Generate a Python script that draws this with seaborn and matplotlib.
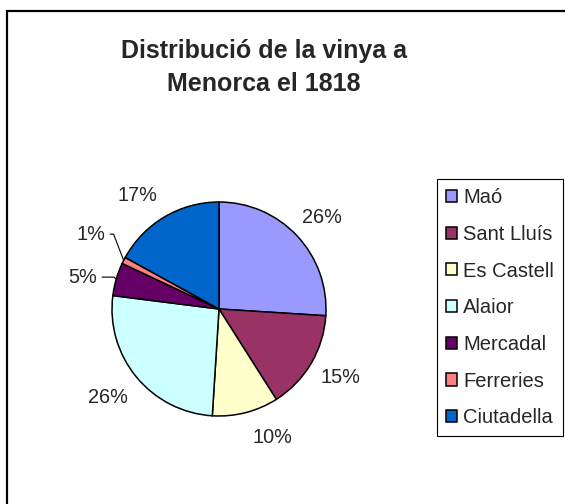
import numpy as np
import matplotlib
matplotlib.use("Agg")
import matplotlib.pyplot as plt
import seaborn as sns
from matplotlib.patches import Rectangle

# data
municipis = ["Maó", "Sant Lluís", "Es Castell", "Alaior", "Mercadal", "Ferreries", "Ciutadella"]
percent = [26, 15, 10, 26, 5, 1, 17]
colors = ["#9999FF", "#993366", "#FFFFCC", "#CCFFFF", "#660066", "#FF8080", "#0066CC"]
title = "Distribució de la vinya a\nMenorca el 1818"

sns.set_style("white")
plt.rcParams['font.family'] = ['Liberation Sans', 'DejaVu Sans']
palette = sns.color_palette(colors)

W, H = 565, 504
fig = plt.figure(figsize=(W / 100, H / 100), dpi=100)

# pie centre (219, 309) px from top-left, radius 107 px
R, k = 107, 1.6
cx, cy = 219, H - 309
side = 2 * R * k
ax = fig.add_axes([(cx - side / 2) / W, (cy - side / 2) / H, side / W, side / H])

wedges, _ = ax.pie(percent, colors=palette, startangle=90, counterclock=False,
                   wedgeprops=dict(edgecolor="black", linewidth=1.1))
ax.set_xlim(-k, k)
ax.set_ylim(-k, k)
ax.axis("off")

# label placement like Excel (radius units from the centre)
label_pos = [(0.963, 0.879), (1.131, -0.617), (0.495, -1.178), (-1.037, -0.804),
             (-1.271, 0.318), (-1.196, 0.720), (-0.766, 1.084)]
leader = {4: -45, 5: 111}   # small slices get a leader line
for i, w in enumerate(wedges):
    mid = np.deg2rad((w.theta1 + w.theta2) / 2)
    lbl = f"{percent[i]}%"
    tx, ty = label_pos[i]
    if i in leader:
        ax.annotate(lbl, xy=(np.cos(mid), np.sin(mid)), xytext=(tx, ty - 0.02),
                    ha="center", va="center", fontsize=14.3,
                    arrowprops=dict(arrowstyle="-", color="black", lw=0.8,
                                    shrinkA=1, shrinkB=0, relpos=(1, 0.5),
                                    connectionstyle=f"angle,angleA=0,angleB={leader[i]},rad=0"))
    else:
        ax.text(tx, ty - 0.02, lbl, ha="center", va="center", fontsize=14.3)

fig.text(264 / W, 1 - 67.5 / H, title, ha="center", va="center", fontsize=18,
         fontweight="bold", linespacing=1.48)

leg = fig.legend(wedges, municipis, loc="upper left", bbox_to_anchor=(437 / W, 1 - 179 / H),
                 borderaxespad=0, fontsize=14.5, frameon=True, fancybox=False, framealpha=1,
                 edgecolor="black", handlelength=0.55, handleheight=0.55,
                 handletextpad=0.3, labelspacing=0.88, borderpad=0.45)
leg.get_frame().set_linewidth(0.8)

# chart-area border (only left and top are visible in the crop)
fig.add_artist(Rectangle((7 / W, -0.2), 1.2, 1 - 11 / H + 0.2, fill=False,
                         edgecolor="black", linewidth=1.6, transform=fig.transFigure))

fig.savefig("out.png", dpi=100, facecolor="white")
